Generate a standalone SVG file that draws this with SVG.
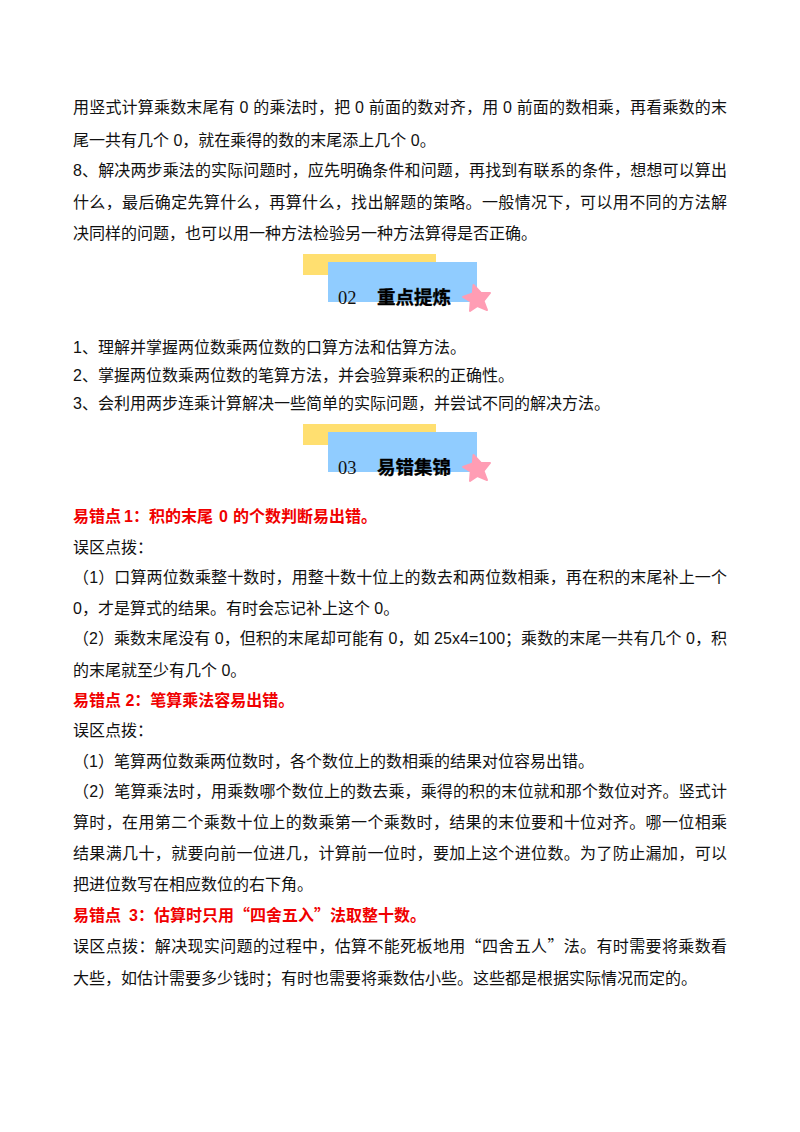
<svg xmlns="http://www.w3.org/2000/svg" width="800" height="1132" viewBox="0 0 800 1132">
<style>
text{font-family:"Liberation Sans","Noto Sans CJK SC",sans-serif;font-size:16px;fill:#111}
.q{font-family:"Noto Sans CJK SC",sans-serif}
.r{font-weight:700;fill:#f00000}
.n{font-family:"Liberation Serif","Noto Sans CJK SC",serif;font-size:18.5px;fill:#111}
.h{font-weight:700;font-size:18.5px;fill:#000;stroke:#000;stroke-width:.3}
.y{fill:#ffdf70}.b{fill:#90ccff}.s{fill:#ff9db4;stroke:#ff9db4;stroke-width:2;stroke-linejoin:round}
</style>
<defs><polygon id="star" class="s" points="-3.5,-14 4,-6 13,-6 6.6,2 10,11 0.5,7 -7,12 -6.3,2.5 -14,-2 -4.2,-5.6"/></defs>
<rect width="800" height="1132" fill="#fff"/>
<g id="body1">
<text x="73" y="113" textLength="654">用竖式计算乘数末尾有 0 的乘法时，把 0 前面的数对齐，用 0 前面的数相乘，再看乘数的末</text>
<text x="73" y="146">尾一共有几个 0，就在乘得的数的末尾添上几个 0。</text>
<text x="73" y="176" textLength="654">8、解决两步乘法的实际问题时，应先明确条件和问题，再找到有联系的条件，想想可以算出</text>
<text x="73" y="208" textLength="654">什么，最后确定先算什么，再算什么，找出解题的策略。一般情况下，可以用不同的方法解</text>
<text x="73" y="239">决同样的问题，也可以用一种方法检验另一种方法算得是否正确。</text>
</g>
<g id="heading02">
<rect class="y" x="303" y="254" width="133" height="21"/>
<rect class="b" x="328" y="262" width="149" height="40"/>
<use href="#star" x="477" y="299"/>
<text class="n" x="338" y="304">02</text>
<text class="h" x="377" y="304">重点提炼</text>
</g>
<g id="body2">
<text x="73" y="353">1、理解并掌握两位数乘两位数的口算方法和估算方法。</text>
<text x="73" y="381">2、掌握两位数乘两位数的笔算方法，并会验算乘积的正确性。</text>
<text x="73" y="409">3、会利用两步连乘计算解决一些简单的实际问题，并尝试不同的解决方法。</text>
</g>
<g id="heading03">
<rect class="y" x="303" y="424" width="133" height="21"/>
<rect class="b" x="328" y="432" width="149" height="40"/>
<use href="#star" x="477" y="469"/>
<text class="n" x="338" y="474">03</text>
<text class="h" x="377" y="474">易错集锦</text>
</g>
<g id="body3">
<text class="r" x="73" y="522">易错点<tspan x="124">1</tspan><tspan x="133" class="q">：</tspan><tspan x="149">积的末尾</tspan><tspan x="219">0</tspan><tspan x="233">的个数判断易出错。</tspan></text>
<text x="73" y="553">误区点拨：</text>
<text x="73" y="583" textLength="654">（1）口算两位数乘整十数时，用整十数十位上的数去和两位数相乘，再在积的末尾补上一个</text>
<text x="73" y="614">0，才是算式的结果。有时会忘记补上这个 0。</text>
<text x="73" y="644" textLength="654">（2）乘数末尾没有 0，但积的末尾却可能有 0，如 25x4=100；乘数的末尾一共有几个 0，积</text>
<text x="73" y="676">的末尾就至少有几个 0。</text>
<text class="r" x="73" y="706">易错点 2：笔算乘法容易出错。</text>
<text x="73" y="736">误区点拨：</text>
<text x="73" y="767">（1）笔算两位数乘两位数时，各个数位上的数相乘的结果对位容易出错。</text>
<text x="73" y="797" textLength="654">（2）笔算乘法时，用乘数哪个数位上的数去乘，乘得的积的末位就和那个数位对齐。竖式计</text>
<text x="73" y="828" textLength="654">算时，在用第二个乘数十位上的数乘第一个乘数时，结果的末位要和十位对齐。哪一位相乘</text>
<text x="73" y="859" textLength="654">结果满几十，就要向前一位进几，计算前一位时，要加上这个进位数。为了防止漏加，可以</text>
<text x="73" y="890">把进位数写在相应数位的右下角。</text>
<text class="r" x="73" y="921">易错点<tspan x="129">3</tspan><tspan x="138" class="q">：</tspan><tspan x="154">估算时只用</tspan><tspan x="234" class="q">“</tspan><tspan x="250">四舍五入</tspan><tspan x="314" class="q">”</tspan><tspan x="330">法取整十数。</tspan></text>
<text x="73" y="952" textLength="654">误区点拨：解决现实问题的过程中，估算不能死板地用<tspan class="q">“</tspan>四舍五人<tspan class="q">”</tspan>法。有时需要将乘数看</text>
<text x="73" y="984">大些，如估计需要多少钱时；有时也需要将乘数估小些。这些都是根据实际情况而定的。</text>
</g>
</svg>
